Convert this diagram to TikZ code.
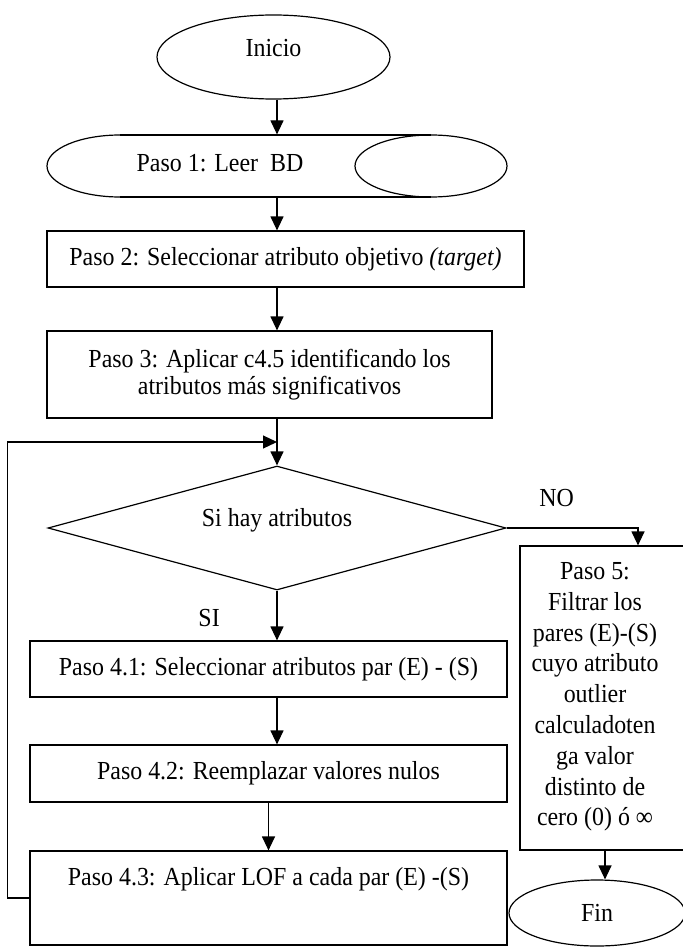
\documentclass[tikz,border=0pt]{standalone}
\usepackage{fontspec}
\setmainfont[FakeStretch=0.92]{Liberation Serif}
\usepackage{tikz}
\usetikzlibrary{calc}
\usetikzlibrary{arrows.meta}
\usetikzlibrary{shapes.geometric}

\begin{document}
\begin{tikzpicture}[
        x=0.5pt, y=-0.5pt,
        >={Triangle[length=7pt,width=6.5pt]},
        line width=0.6pt,
        every node/.style={font=\fontsize{13pt}{15pt}\selectfont},
        proc/.style={draw=black, rectangle, inner sep=0pt},
        term/.style={draw=black, ellipse, inner sep=0pt},
        cond/.style={draw=black, diamond, shape aspect=3.7, inner sep=0pt},
        flow/.style={->}
    ]

    \useasboundingbox (0,0) rectangle (683,947);

    \node[term, minimum width=116.5pt, minimum height=42pt, text depth=9pt] (inicio) at (273.5,57) {Inicio};

    \node[minimum width=230pt, minimum height=31pt, inner sep=0pt] (p1) at (277,166) {};
    \node (p1txt) at (220,163) {Paso 1: Leer\ \ BD};
    \draw (120,135) -- (431,135);
    \draw (120,197) -- (431,197);
    \draw (120,135) arc[start angle=-90, end angle=-270, x radius=73, y radius=31];
    \draw (431,166) ellipse[x radius=76, y radius=31];

    \node[proc, minimum width=238.5pt, minimum height=28pt] (p2) at (285.5,259)
        {Paso 2: Seleccionar atributo objetivo \textit{(target)}};

    \node[proc, minimum width=222.5pt, minimum height=43.5pt, align=center,
        font=\fontsize{13pt}{13.5pt}\selectfont] (p3) at (269.5,374.5)
        {Paso 3: Aplicar c4.5 identificando los\\atributos más significativos};

    \node[cond, minimum width=229pt, minimum height=62pt, text depth=11pt] (cond) at (277,528)
        {Si hay atributos};

    \node[proc, minimum width=238.5pt, minimum height=28pt] (p41) at (268.5,669)
        {Paso 4.1: Seleccionar atributos par (E) - (S)};
    \node[proc, minimum width=238.5pt, minimum height=28.5pt] (p42) at (268.5,773.5)
        {Paso 4.2: Reemplazar valores nulos};
    \node[proc, minimum width=238.5pt, minimum height=47pt, text depth=22pt] (p43) at (268.5,898)
        {Paso 4.3: Aplicar LOF a cada par (E) -(S)};

    \node[proc, minimum width=85pt, minimum height=152pt] (p5) at (605,698) {};
    \node[align=center, font=\fontsize{13pt}{15.4pt}\selectfont] (p5txt) at (595,697)
        {Paso 5:\\Filtrar los\\pares (E)-(S)\\cuyo atributo\\outlier\\calculadoten\\ga valor\\distinto de\\cero (0) ó ∞};

    \node[term, minimum width=88pt, minimum height=33pt] (fin) at (597,913) {Fin};

    \coordinate (loopin) at ($(p3.south -| cond)!0.5!(cond.north)$);
    \coordinate (p5in) at ($(p5.north)+(33,0)$);

    \draw[flow] (p1.north |- inicio.south) -- (p1.north);
    \draw[flow] (p1.south) -- (p1.south |- p2.north);
    \draw[flow] (p2.south -| cond) -- (p3.north -| cond);
    \draw[flow] (p3.south -| cond) -- (cond.north);
    \draw[flow] (p43.west) -- ++(-22,0) |- (loopin);
    \draw[flow] (cond.east) -| node[pos=0.19, above=7pt] {NO} (p5in);
    \draw[flow] (cond.south) -- node[pos=0.55, left=25pt] {SI} (cond.south |- p41.north);
    \draw[flow] (p41.south -| cond) -- (p42.north -| cond);
    \draw[flow] (p42.south) -- (p43.north);
    \draw[flow] (p5.south) -- (p5.south |- fin.north);

    \end{tikzpicture}
\end{document}
